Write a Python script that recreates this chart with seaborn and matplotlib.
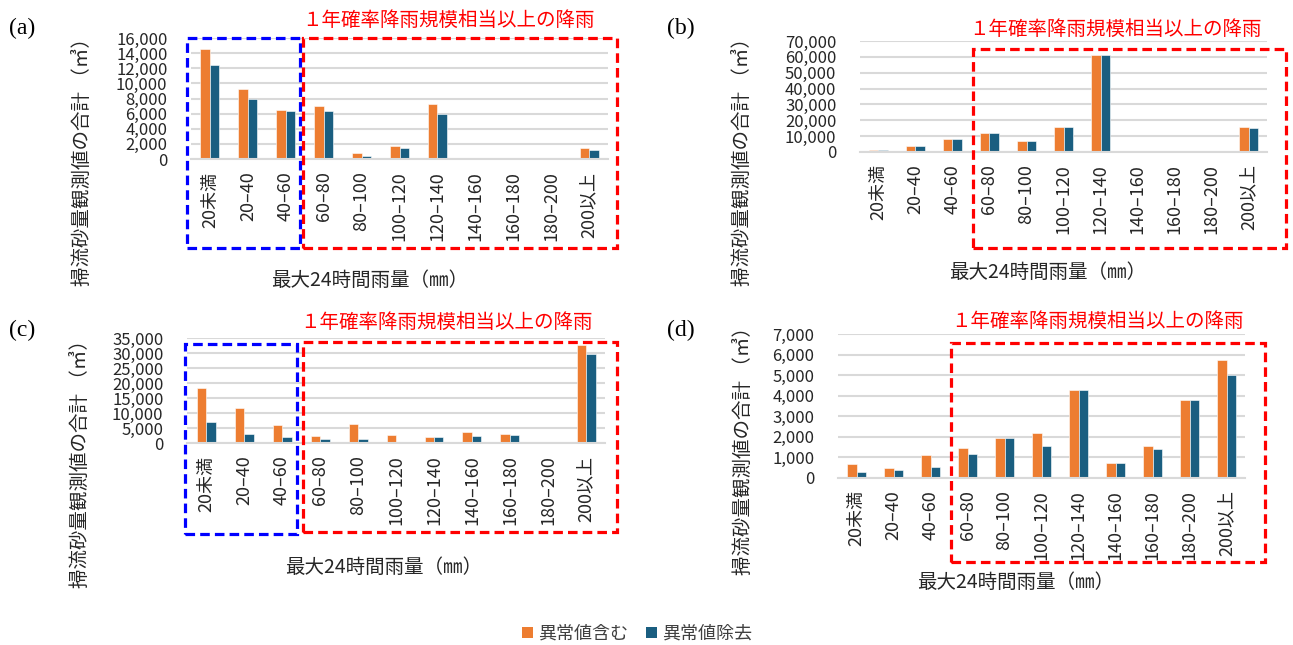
import matplotlib
matplotlib.use('Agg')
import matplotlib.pyplot as plt
from matplotlib.patches import Rectangle, Patch
from matplotlib.ticker import MultipleLocator, FuncFormatter
import pandas as pd
import seaborn as sns

W, H = 1293, 645

categories = ['20未満', '20–40', '40–60', '60–80', '80–100', '100–120',
              '120–140', '140–160', '160–180', '180–200', '200以上']
series_names = ['異常値含む', '異常値除去']

# values (m3)
a_incl = [14600, 9300, 6500, 7000, 840, 1670, 7300, 0, 0, 0, 1450]
a_excl = [12400, 8000, 6400, 6400, 350, 1450, 6000, 0, 0, 0, 1200]
b_incl = [1500, 4000, 8000, 12200, 7000, 15800, 61200, 0, 0, 0, 15800]
b_excl = [1500, 4000, 8000, 12200, 7000, 15800, 61200, 0, 0, 0, 15200]
c_incl = [18400, 11800, 6000, 2400, 6300, 2700, 2100, 3600, 3000, 0, 32600]
c_excl = [6900, 3000, 1900, 1400, 1400, 400, 2100, 2400, 2700, 0, 29600]
d_incl = [670, 500, 1100, 1450, 1930, 2210, 4300, 710, 1570, 3770, 5760]
d_excl = [280, 410, 540, 1190, 1930, 1540, 4270, 710, 1400, 3770, 5000]

colors = ['#ED7D31', '#1A5E80']
ylabel = '掃流砂量観測値の合計 （㎥）'
xlabel = '最大24時間雨量（㎜）'
title = '１年確率降雨規模相当以上の降雨'

sns.set_theme(style='white')
plt.rcParams['font.family'] = ['Noto Sans CJK JP', 'DejaVu Sans']


def px_axes(fig, left, right, top, bottom):
    return fig.add_axes([left / W, 1 - bottom / H, (right - left) / W, (bottom - top) / H])


def px_text(fig, x, y, s, **kw):
    fig.text(x / W, 1 - y / H, s, ha='center', va='center', **kw)


def px_box(fig, x0, y0, x1, y1, color):
    fig.add_artist(Rectangle((x0 / W, 1 - y1 / H), (x1 - x0) / W, (y1 - y0) / H,
                             transform=fig.transFigure, fill=False, ec=color,
                             lw=2.3, ls=(0, (3, 1.6)), zorder=10))


def draw_panel(fig, ax, incl, excl, ymax, step):
    df = pd.DataFrame({
        'cat': categories * 2,
        'val': incl + excl,
        'series': [series_names[0]] * len(categories) + [series_names[1]] * len(categories),
    })
    sns.barplot(data=df, x='cat', y='val', hue='series', order=categories,
                hue_order=series_names, palette=colors, saturation=1, width=0.5,
                edgecolor='white', linewidth=0.4, legend=False, ax=ax)
    ax.set_ylim(0, ymax)
    ax.yaxis.set_major_locator(MultipleLocator(step))
    ax.yaxis.set_major_formatter(FuncFormatter(lambda v, p: f'{int(v):,}'))
    ax.yaxis.grid(True, color='#D9D9D9', lw=1.5)
    ax.set_axisbelow(True)
    for s in ['top', 'right', 'left']:
        ax.spines[s].set_visible(False)
    ax.spines['bottom'].set_color('#D9D9D9')
    ax.spines['bottom'].set_linewidth(1.5)
    ax.tick_params(axis='y', length=0, pad=17, labelsize=12, labelcolor='#262626')
    ax.tick_params(axis='x', length=0, pad=9, labelsize=13, labelcolor='#262626',
                   labelrotation=90)
    ax.set_xlabel('')
    ax.set_ylabel('')


fig = plt.figure(figsize=(W / 100, H / 100), dpi=100)

ax_a = px_axes(fig, 191, 608, 38, 159)
draw_panel(fig, ax_a, a_incl, a_excl, 16000, 2000)
ax_b = px_axes(fig, 860, 1267, 41, 152)
draw_panel(fig, ax_b, b_incl, b_excl, 70000, 10000)
ax_c = px_axes(fig, 187, 605, 338, 443)
draw_panel(fig, ax_c, c_incl, c_excl, 35000, 5000)
ax_d = px_axes(fig, 838, 1245, 334, 478)
draw_panel(fig, ax_d, d_incl, d_excl, 7000, 1000)

# panel letters
for x, y, s in [(22, 28, '(a)'), (681, 28, '(b)'), (22, 330, '(c)'), (681, 330, '(d)')]:
    px_text(fig, x, y, s, fontsize=17, family='Liberation Serif', color='black')

# y labels
for x, y in [(82, 157), (742, 157), (80, 459), (743, 446)]:
    px_text(fig, x, y, ylabel, fontsize=14, rotation=90, color='#262626')

# x labels
for x, y in [(370, 280), (1048, 272), (384, 567), (1016, 582)]:
    px_text(fig, x, y, xlabel, fontsize=14, color='#262626')

# red titles
for x, y in [(448, 20), (1115, 29), (446, 322), (1097, 321)]:
    px_text(fig, x, y, title, fontsize=14, color='#FF0000')

# dashed boxes
px_box(fig, 187, 38, 300, 248, '#0000FF')
px_box(fig, 303, 38, 617, 248, '#FF0000')
px_box(fig, 973, 49, 1286, 248, '#FF0000')
px_box(fig, 185, 344, 297, 534, '#0000FF')
px_box(fig, 303, 342, 617, 532, '#FF0000')
px_box(fig, 951, 343, 1265, 562, '#FF0000')

handles = [Patch(facecolor=c, edgecolor='none') for c in colors]
fig.legend(handles, series_names, loc='center', bbox_to_anchor=(637 / W, 1 - 634 / H),
           ncol=2, frameon=False, fontsize=13, handlelength=0.6, handleheight=0.6,
           handletextpad=0.3, columnspacing=1.0, labelcolor='#404040')

fig.savefig('out.png', dpi=100)
